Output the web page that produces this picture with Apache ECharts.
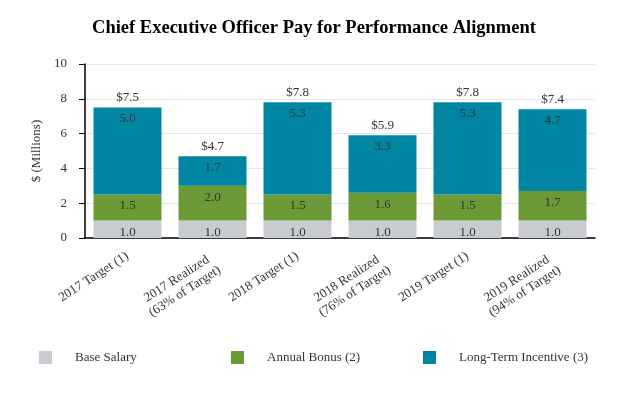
<!DOCTYPE html>
<html><head><meta charset="utf-8">
<script src="https://cdn.jsdelivr.net/npm/echarts@6/dist/echarts.min.js"></script>
<style>html,body{margin:0;padding:0;background:#fff}#c{width:628px;height:393px}</style>
</head><body><div id="c"></div>
<script>
const categories = ['2017 Target (1)', '2017 Realized\n(63% of Target)', '2018 Target (1)', '2018 Realized\n(76% of Target)', '2019 Target (1)', '2019 Realized\n(94% of Target)'];
const baseSalary = [1.0, 1.0, 1.0, 1.0, 1.0, 1.0];
const annualBonus = [1.5, 2.0, 1.5, 1.6, 1.5, 1.7];
const longTerm = [5.0, 1.7, 5.3, 3.3, 5.3, 4.7];
const totals = [7.5, 4.7, 7.8, 5.9, 7.8, 7.4];
const seriesNames = ['Base Salary', 'Annual Bonus (2)', 'Long-Term Incentive (3)'];
const colors = ['#c8ccd1', '#6b9935', '#0086a3'];
const font = 'Liberation Serif, Times New Roman, serif';

const segLabel = {show: true, position: 'insideTop', distance: 5, color: '#333', fontFamily: font, fontSize: 13, formatter: p => p.value.toFixed(1)};
function stackSeries(name, data, color) {
  return {name, type: 'bar', stack: 'pay', data, barWidth: '80%', itemStyle: {color}, label: segLabel, emphasis: {disabled: true}};
}
const legendCommon = (name, left) => ({
  data: [name], left, top: 346, itemWidth: 13, itemHeight: 13, icon: 'rect',
  textStyle: {fontFamily: font, fontSize: 13, color: '#333', padding: [0, 0, 0, 18]}, selectedMode: false
});

const chart = echarts.init(document.getElementById('c'));
chart.setOption({
  animation: false,
  color: colors,
  title: {text: 'Chief Executive Officer Pay for Performance Alignment', left: 'center', top: 14,
    textStyle: {fontFamily: font, fontSize: 18.5, fontWeight: 'bold', color: '#000'}},
  legend: [legendCommon(seriesNames[0], 34), legendCommon(seriesNames[1], 226), legendCommon(seriesNames[2], 418)],
  grid: {left: 85, right: 33, top: 64, bottom: 155},
  xAxis: {type: 'category', data: categories,
    axisLine: {lineStyle: {color: '#000', width: 1.5}},
    axisTick: {alignWithLabel: true, length: 5, lineStyle: {color: '#000'}},
    axisLabel: {rotate: 33, interval: 0, color: '#333', fontFamily: font, fontSize: 13, margin: 17, lineHeight: 15,
      formatter: v => v.indexOf('\n') < 0 ? v : '{e|}\n' + v.split('\n').map(s => '{c|' + s + '}').join('\n'),
      rich: {c: {width: 86, align: 'center', fontFamily: font, fontSize: 13, color: '#333', lineHeight: 15},
             e: {height: 16, lineHeight: 16, fontSize: 13}}}},
  yAxis: {type: 'value', min: 0, max: 10, interval: 2,
    name: '$ (Millions)', nameLocation: 'middle', nameGap: 40,
    nameTextStyle: {fontFamily: font, fontSize: 13, color: '#333'},
    axisLine: {show: true, lineStyle: {color: '#000', width: 1.5}},
    axisTick: {show: true, length: 6, lineStyle: {color: '#000'}},
    axisLabel: {color: '#333', fontFamily: font, fontSize: 13, margin: 18},
    splitLine: {lineStyle: {color: '#e6e6e6'}}},
  series: [
    stackSeries(seriesNames[0], baseSalary, colors[0]),
    stackSeries(seriesNames[1], annualBonus, colors[1]),
    stackSeries(seriesNames[2], longTerm, colors[2]),
    {name: 'Total', type: 'bar', data: totals, barWidth: '80%', barGap: '-100%', z: 1,
      itemStyle: {color: 'rgba(0,0,0,0)'}, emphasis: {disabled: true}, silent: true,
      label: {show: true, position: 'top', distance: 3, color: '#333', fontFamily: font, fontSize: 13, formatter: p => '$' + p.value.toFixed(1)}}
  ]
});
</script></body></html>
